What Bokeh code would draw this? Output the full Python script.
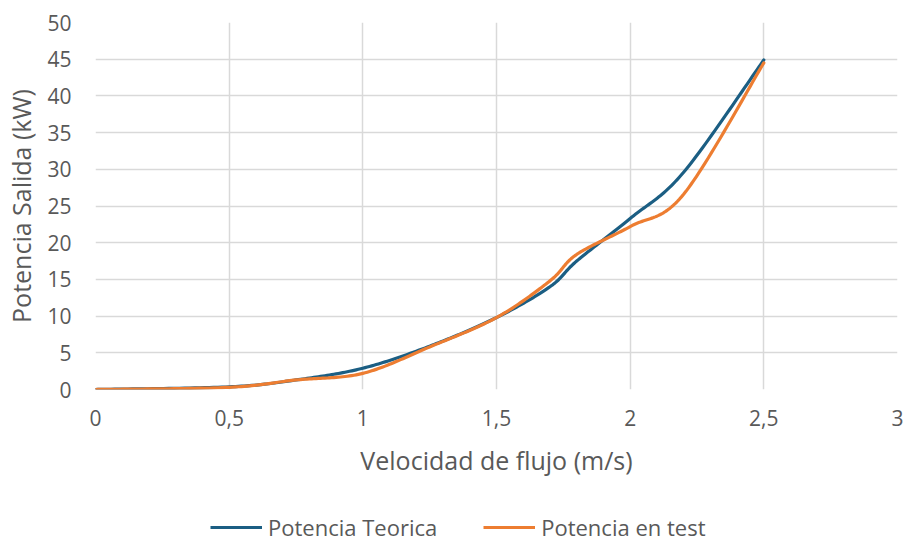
import numpy as np
from bokeh.plotting import figure
from bokeh.layouts import column
from bokeh.models import Legend, LegendItem, FixedTicker, CustomJSTickFormatter
from bokeh.embed import file_html
from bokeh.resources import INLINE

# ---- data ----
velocidad = [0.0, 0.5, 0.75, 1.0, 1.25, 1.5, 1.7, 1.8, 2.0, 2.2, 2.5]
potencia_teorica = [0.0, 0.36, 1.3, 2.9, 5.9, 9.8, 14.0, 17.5, 23.3, 29.6, 44.9]
potencia_test = [0.0, 0.30, 1.3, 2.2, 5.8, 9.8, 14.8, 18.4, 22.2, 26.6, 44.5]
series_names = ["Potencia Teorica", "Potencia en test"]
x_ticks = [0, 0.5, 1, 1.5, 2, 2.5, 3]
y_ticks = [0, 5, 10, 15, 20, 25, 30, 35, 40, 45, 50]

FONT = "Open Sans"
GREY = "#595959"
BLUE = "#1B5E83"
ORANGE = "#ED7D31"
LW = 3.2


def smooth(xs, ys, n=30):
    """Bezier smoothing through the points (spreadsheet-style smoothed line)."""
    pts = np.column_stack([xs, ys]).astype(float)
    out = []
    m = len(pts)
    for i in range(m - 1):
        p0 = pts[i - 1] if i > 0 else pts[i]
        p1 = pts[i]
        p2 = pts[i + 1]
        p3 = pts[i + 2] if i + 2 < m else pts[i + 1]
        c1 = p1 + (p2 - p0) / 6.0
        c2 = p2 - (p3 - p1) / 6.0
        for t in np.linspace(0, 1, n, endpoint=False):
            b = ((1 - t) ** 3) * p1 + 3 * ((1 - t) ** 2) * t * c1 + 3 * (1 - t) * t * t * c2 + t ** 3 * p2
            out.append(b)
    out.append(pts[-1])
    out = np.array(out)
    return out[:, 0], out[:, 1]


p = figure(width=908, height=490, x_range=(0, 3), y_range=(0, 50),
           output_backend="svg", toolbar_location=None,
           min_border_left=95, min_border_right=11, min_border_top=22, min_border_bottom=101)
p.outline_line_color = None
p.background_fill_color = "white"

sx1, sy1 = smooth(velocidad, potencia_teorica)
sx2, sy2 = smooth(velocidad, potencia_test)
p.line(sx1, sy1, line_color=BLUE, line_width=LW, line_join="round", line_cap="round")
p.line(sx2, sy2, line_color=ORANGE, line_width=LW, line_join="round", line_cap="round")

# axes
p.xaxis.ticker = FixedTicker(ticks=x_ticks)
p.yaxis.ticker = FixedTicker(ticks=y_ticks)
p.xaxis.formatter = CustomJSTickFormatter(code="return tick.toString().replace('.', ',');")
for ax in (p.xaxis[0], p.yaxis[0]):
    ax.axis_line_color = None
    ax.major_tick_line_color = None
    ax.minor_tick_line_color = None
    ax.major_label_text_font = FONT
    ax.major_label_text_font_size = "21px"
    ax.major_label_text_color = GREY
    ax.axis_label_text_font = FONT
    ax.axis_label_text_font_size = "25px"
    ax.axis_label_text_font_style = "normal"
    ax.axis_label_text_color = GREY
p.xaxis.axis_label = "Velocidad de flujo (m/s)"
p.yaxis.axis_label = "Potencia Salida (kW)"
p.xaxis.major_label_standoff = 14
p.xaxis.axis_label_standoff = 14
p.yaxis.major_label_standoff = 18
p.yaxis.axis_label_standoff = 6

p.xgrid.grid_line_color = "#D9D9D9"
p.ygrid.grid_line_color = "#D9D9D9"
p.xgrid.grid_line_width = 1.5
p.ygrid.grid_line_width = 1.5

# legend strip below the chart (key renderers carry the series but are hidden)
lg = figure(width=908, height=52, x_range=(0, 3), y_range=(0, 50),
            output_backend="svg", toolbar_location=None,
            x_axis_type=None, y_axis_type=None, min_border=0)
lg.outline_line_color = None
lg.xgrid.visible = False
lg.ygrid.visible = False
k1 = lg.line(velocidad, potencia_teorica, line_color=BLUE, line_width=LW, visible=False)
k2 = lg.line(velocidad, potencia_test, line_color=ORANGE, line_width=LW, visible=False)
legend = Legend(items=[LegendItem(label=series_names[0], renderers=[k1]),
                       LegendItem(label=series_names[1], renderers=[k2])],
                location=(115, 0), orientation="horizontal",
                label_text_font=FONT, label_text_font_size="22px", label_text_color=GREY,
                glyph_width=52, glyph_height=20, label_standoff=6, spacing=46,
                padding=0, margin=0, border_line_color=None, background_fill_alpha=0,
                inactive_fill_alpha=0)
lg.add_layout(legend, "center")

layout = column(p, lg, spacing=0)
open("out.html", "w").write(file_html(layout, INLINE))
